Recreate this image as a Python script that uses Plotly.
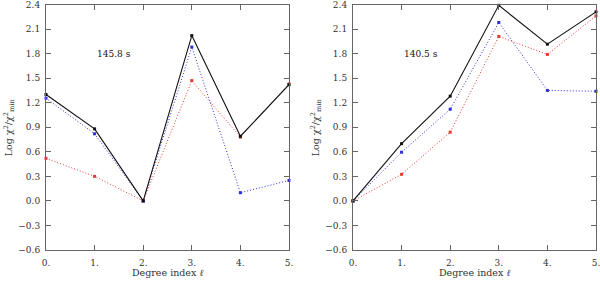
import plotly.graph_objects as go

degrees = [0, 1, 2, 3, 4, 5]
tick_labels = ["0.", "1.", "2.", "3.", "4.", "5."]
y_ticks = [-0.6, -0.3, 0.0, 0.3, 0.6, 0.9, 1.2, 1.5, 1.8, 2.1, 2.4]
y_tick_labels = ["\u22120.6", "\u22120.3", "0.0", "0.3", "0.6", "0.9", "1.2", "1.5", "1.8", "2.1", "2.4"]

# Left panel (145.8 s)
left_black = [1.30, 0.88, 0.0, 2.02, 0.79, 1.42]
left_blue = [1.255, 0.82, 0.0, 1.88, 0.10, 0.25]
left_red = [0.52, 0.30, 0.0, 1.47, 0.78, 1.43]
# Right panel (140.5 s)
right_black = [0.0, 0.70, 1.28, 2.39, 1.915, 2.31]
right_blue = [0.0, 0.595, 1.12, 2.18, 1.35, 1.34]
right_red = [0.0, 0.325, 0.84, 2.01, 1.79, 2.26]

labels = ["145.8 s", "140.5 s"]

FONT = "DejaVu Serif"
fig = go.Figure()

def add(x, y, color, dash, xa, ya, width):
    fig.add_trace(go.Scatter(
        x=x, y=y, mode="lines+markers", xaxis=xa, yaxis=ya,
        line=dict(color=color, dash=dash, width=width),
        marker=dict(symbol="square", size=3, color=color),
        showlegend=False, hoverinfo="skip", cliponaxis=False))

add(degrees, left_red, "#e33a30", "1px,2px", "x", "y", 1)
add(degrees, left_blue, "#2f2fd6", "1px,2px", "x", "y", 1)
add(degrees, left_black, "#111111", "solid", "x", "y", 1.1)
add(degrees, right_red, "#e33a30", "1px,2px", "x2", "y2", 1)
add(degrees, right_blue, "#2f2fd6", "1px,2px", "x2", "y2", 1)
add(degrees, right_black, "#111111", "solid", "x2", "y2", 1.1)

axis_common = dict(
    showline=True, linecolor="#666666", linewidth=1, mirror="ticks",
    ticks="inside", ticklen=5, tickcolor="#666666", showgrid=False,
    zeroline=False, tickfont=dict(family=FONT, size=9, color="#333333"),
    ticklabeloverflow="allow", automargin=False,
)

y_dom = [1 - 250 / 286, 1 - 4.5 / 286]
fig.update_layout(
    width=600, height=286,
    margin=dict(l=0, r=0, t=0, b=0),
    paper_bgcolor="white", plot_bgcolor="white",
    xaxis=dict(domain=[46 / 600, 289 / 600], range=[0, 5], tickvals=degrees,
               ticktext=tick_labels, anchor="y", ticklabelstandoff=4, **axis_common),
    xaxis2=dict(domain=[353 / 600, 596 / 600], range=[0, 5], tickvals=degrees,
                ticktext=tick_labels, anchor="y2", ticklabelstandoff=4, **axis_common),
    yaxis=dict(domain=y_dom, range=[-0.6, 2.4], tickvals=y_ticks,
               ticktext=y_tick_labels, anchor="x", ticklabelstandoff=3, **axis_common),
    yaxis2=dict(domain=y_dom, range=[-0.6, 2.4], tickvals=y_ticks,
                ticktext=y_tick_labels, anchor="x2", ticklabelstandoff=3, **axis_common),
)

for xa, ya, lab, xd in [("x", "y", labels[0], (46, 289)), ("x2", "y2", labels[1], (353, 596))]:
    fig.add_annotation(x=1.0, y=1.8, xref=xa, yref=ya, text=lab, showarrow=False,
                       xanchor="left", yanchor="middle",
                       font=dict(family=FONT, size=9, color="#111111"))
    cx = (xd[0] + xd[1]) / 2 / 600
    fig.add_annotation(x=cx, y=1 - 272 / 286, xref="paper", yref="paper",
                       text="Degree index <i>\u2113</i>", showarrow=False,
                       xanchor="center", yanchor="middle",
                       font=dict(family=FONT, size=9.5, color="#333333"))
    fig.add_annotation(x=(xd[0] - 37) / 600, y=(y_dom[0] + y_dom[1]) / 2,
                       xref="paper", yref="paper",
                       text="Log \u03c7<sup>2</sup>/\u03c7<sup>2</sup><sub>min</sub>",
                       textangle=-90, showarrow=False,
                       xanchor="center", yanchor="middle",
                       font=dict(family=FONT, size=9.5, color="#333333"))

fig.write_html("out.html", config={"displayModeBar": False},
               post_script="document.body.style.margin='0px';document.body.style.overflow='hidden';")
